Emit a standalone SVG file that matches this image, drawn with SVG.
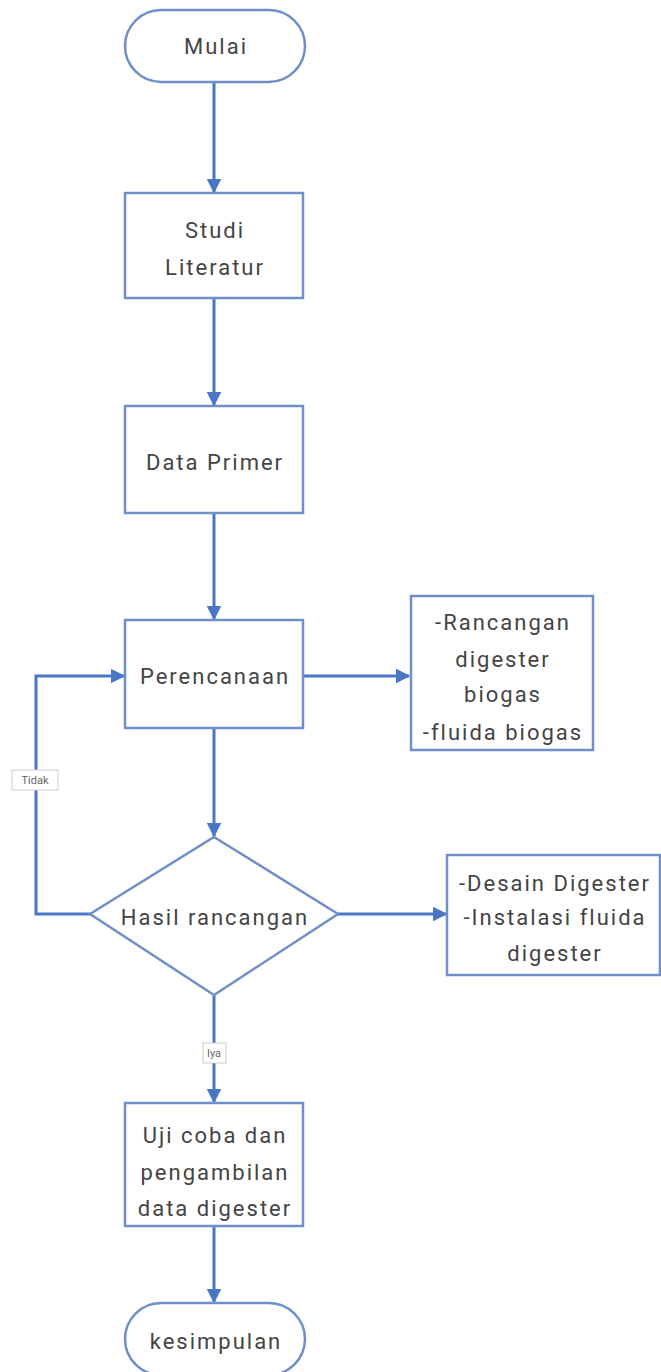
<svg xmlns="http://www.w3.org/2000/svg" width="661" height="1372" viewBox="0 0 661 1372">
<style>
.n{fill:#fff;stroke:#6f8fc8;stroke-width:2.5}
.t{font-family:Roboto,"Liberation Sans",sans-serif;font-size:22px;fill:#444;text-anchor:middle;letter-spacing:2px}
.c{fill:none;stroke:#4a76c6;stroke-width:3}
.lb{fill:#fff;stroke:#ccc;stroke-width:1}
.lt{font-family:Roboto,"Liberation Sans",sans-serif;font-size:11px;fill:#666;text-anchor:middle}
</style>
<defs>
<marker id="ah" markerWidth="5" markerHeight="5" refX="4.5" refY="2.5" orient="auto" markerUnits="strokeWidth">
<path d="M0,0 L5,2.5 L0,5 Z" fill="#4a76c6"/>
</marker>
</defs>
<g id="connectors">
<path class="c" d="M214,82 V192" marker-end="url(#ah)"/>
<path class="c" d="M214,298 V405" marker-end="url(#ah)"/>
<path class="c" d="M214,513 V619" marker-end="url(#ah)"/>
<path class="c" d="M304,676 H409" marker-end="url(#ah)"/>
<path class="c" d="M214,729 V836" marker-end="url(#ah)"/>
<path class="c" d="M90,914 H36 V676 H124" marker-end="url(#ah)"/>
<path class="c" d="M338,914 H446" marker-end="url(#ah)"/>
<path class="c" d="M214,995 V1102" marker-end="url(#ah)"/>
<path class="c" d="M214,1227 V1302" marker-end="url(#ah)"/>
<rect class="lb" x="12" y="770" width="46" height="20"/>
<text class="lt" x="35" y="784">Tidak</text>
<rect class="lb" x="203" y="1043" width="23" height="20"/>
<text class="lt" x="214" y="1057">Iya</text>
</g>
<g id="mulai">
<rect class="n" x="125" y="10" width="180" height="72" rx="36"/>
<text class="t" x="216" y="54">Mulai</text>
</g>
<g id="studi">
<rect class="n" x="125" y="193" width="178" height="105"/>
<text class="t" x="215" y="238">Studi</text>
<text class="t" x="215" y="275">Literatur</text>
</g>
<g id="data">
<rect class="n" x="125" y="406" width="178" height="107"/>
<text class="t" x="215" y="470">Data Primer</text>
</g>
<g id="perencanaan">
<rect class="n" x="125" y="620" width="178" height="108"/>
<text class="t" x="215" y="684">Perencanaan</text>
</g>
<g id="rancangan">
<rect class="n" x="411" y="596" width="182" height="154"/>
<text class="t" x="503" y="630">-Rancangan</text>
<text class="t" x="503" y="667">digester</text>
<text class="t" x="503" y="702">biogas</text>
<text class="t" x="503" y="740">-fluida biogas</text>
</g>
<g id="hasil">
<path class="n" d="M214,837 L338,914 L214,995 L90,914 Z"/>
<text class="t" x="215" y="925">Hasil rancangan</text>
</g>
<g id="desain">
<rect class="n" x="447" y="855" width="213" height="120"/>
<text class="t" x="555" y="891">-Desain Digester</text>
<text class="t" x="555" y="925">-Instalasi fluida</text>
<text class="t" x="555" y="961">digester</text>
</g>
<g id="uji">
<rect class="n" x="125" y="1103" width="178" height="123"/>
<text class="t" x="215" y="1143">Uji coba dan</text>
<text class="t" x="215" y="1180">pengambilan</text>
<text class="t" x="215" y="1216">data digester</text>
</g>
<g id="kesimpulan">
<rect class="n" x="125" y="1303" width="180" height="72" rx="36"/>
<text class="t" x="216" y="1349">kesimpulan</text>
</g>
</svg>
